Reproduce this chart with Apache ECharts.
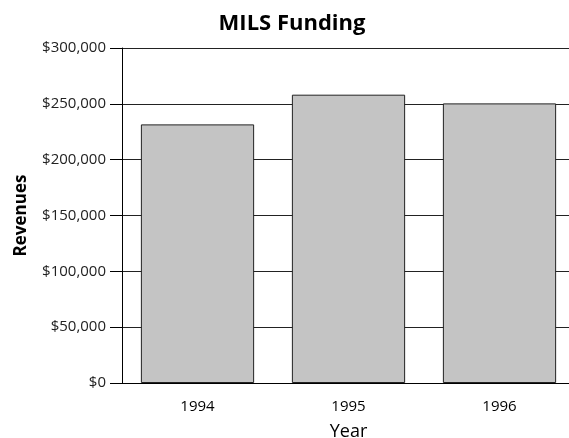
<!DOCTYPE html>
<html>
<head>
<meta charset="utf-8">
<script src="https://cdn.jsdelivr.net/npm/echarts@6/dist/echarts.min.js"></script>
<style>
  html, body { margin: 0; padding: 0; background: #fff; }
  #chart { width: 569px; height: 438px; }
</style>
</head>
<body>
<div id="chart"></div>
<script>
var years = ['1994', '1995', '1996']
var revenues = [231600, 258200, 250400]
var yTicks = [0, 50000, 100000, 150000, 200000, 250000, 300000]

var fontFamily = '"Open Sans", "DejaVu Sans", sans-serif'
var barChart = echarts.init(document.getElementById('chart'))

var option = {
  backgroundColor: '#fff',
  animation: false,
  title: {
    text: 'MILS Funding',
    left: 287,
    top: 8,
    textAlign: 'center',
    textStyle: { fontFamily: fontFamily, fontWeight: 'bold', fontSize: 22, color: '#000' }
  },
  grid: {
    left: 122,
    width: 453,
    top: 48,
    bottom: 55,
    outerBoundsMode: 'none',
    containLabel: false
  },
  xAxis: {
    type: 'category',
    data: years,
    name: 'Year',
    nameLocation: 'middle',
    nameGap: 40,
    nameTextStyle: { fontFamily: fontFamily, fontSize: 18, color: '#000' },
    axisLine: { lineStyle: { color: '#000', width: 1 } },
    axisTick: { alignWithLabel: true, length: 9, lineStyle: { color: '#555' } },
    axisLabel: { fontFamily: fontFamily, fontSize: 15, color: '#000', margin: 16 }
  },
  yAxis: {
    type: 'value',
    min: yTicks[0],
    max: yTicks[yTicks.length - 1],
    interval: yTicks[1] - yTicks[0],
    name: 'Revenues',
    nameLocation: 'middle',
    nameGap: 92,
    nameTextStyle: { fontFamily: fontFamily, fontWeight: 'bold', fontSize: 17, color: '#000' },
    axisLine: { show: true, lineStyle: { color: '#000', width: 1 } },
    axisTick: { show: true, length: 12, lineStyle: { color: '#000' } },
    axisLabel: {
      fontFamily: fontFamily,
      fontSize: 15,
      color: '#222',
      margin: 16,
      formatter: function (v) {
        return '$' + v.toLocaleString('en-US')
      }
    },
    splitLine: { show: true, lineStyle: { color: '#222', width: 1 } }
  },
  series: [{
    type: 'bar',
    data: revenues,
    barCategoryGap: '25%',
    itemStyle: {
      color: '#c4c4c4',
      borderColor: '#222',
      borderWidth: 1
    }
  }]
}

barChart.setOption(option)
</script>
</body>
</html>
